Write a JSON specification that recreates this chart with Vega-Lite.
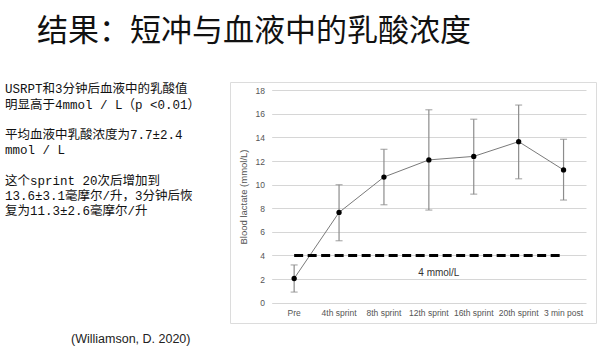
{
  "$schema": "https://vega.github.io/schema/vega-lite/v6.json",
  "background": "white",
  "padding": {"left": 5, "top": 15, "right": 0, "bottom": 0},
  "title": {
    "text": "结果：短冲与血液中的乳酸浓度",
    "anchor": "start",
    "fontSize": 31,
    "font": "Noto Sans CJK SC",
    "fontWeight": "normal",
    "color": "#111111",
    "dx": 32,
    "offset": 34
  },
  "spacing": 0,
  "hconcat": [
    {
      "width": 224,
      "height": 140,
      "data": {
        "values": [
          {"line": 0, "text": "USRPT和3分钟后血液中的乳酸值"},
          {"line": 1, "text": "明显高于4mmol / L（p <0.01）"},
          {"line": 3, "text": "平均血液中乳酸浓度为7.7±2.4"},
          {"line": 4, "text": "mmol / L"},
          {"line": 6, "text": "这个sprint 20次后增加到"},
          {"line": 7, "text": "13.6±3.1毫摩尔/升，3分钟后恢"},
          {"line": 8, "text": "复为11.3±2.6毫摩尔/升"}
        ]
      },
      "title": {
        "text": "(Williamson, D. 2020)",
        "orient": "bottom",
        "anchor": "start",
        "dx": 66,
        "offset": 111,
        "baseline": "top",
        "fontSize": 12.5,
        "font": "Liberation Sans",
        "fontWeight": "normal",
        "color": "#222222"
      },
      "mark": {
        "type": "text",
        "align": "left",
        "baseline": "middle",
        "fontSize": 12.5,
        "font": "Liberation Mono, Noto Sans CJK SC",
        "color": "#111111"
      },
      "encoding": {
        "x": {"datum": 0, "type": "quantitative", "scale": {"domain": [0, 1], "range": [0, 224]}, "axis": null},
        "y": {"field": "line", "type": "quantitative", "scale": {"domain": [0, 8], "range": [7.3, 128.9]}, "axis": null},
        "text": {"field": "text"}
      }
    },
    {
      "width": 366,
      "height": 241,
      "view": {"stroke": "#dcdcdc", "strokeWidth": 1},
      "data": {
        "values": [
          {"time": "Pre", "mean": 2.05, "lo": 0.9, "hi": 3.2},
          {"time": "4th sprint", "mean": 7.65, "lo": 5.25, "hi": 10.0},
          {"time": "8th sprint", "mean": 10.65, "lo": 8.3, "hi": 13.0},
          {"time": "12th sprint", "mean": 12.1, "lo": 7.85, "hi": 16.35},
          {"time": "16th sprint", "mean": 12.4, "lo": 9.2, "hi": 15.55},
          {"time": "20th sprint", "mean": 13.65, "lo": 10.5, "hi": 16.75},
          {"time": "3 min post", "mean": 11.25, "lo": 8.7, "hi": 13.85}
        ]
      },
      "encoding": {
        "x": {
          "field": "time",
          "type": "nominal",
          "sort": null,
          "scale": {
            "type": "band",
            "domain": ["Pre", "4th sprint", "8th sprint", "12th sprint", "16th sprint", "20th sprint", "3 min post"],
            "range": [41.7, 356],
            "paddingInner": 0,
            "paddingOuter": 0
          },
          "axis": {
            "orient": "bottom",
            "offset": -20.3,
            "ticks": false,
            "domain": false,
            "grid": false,
            "labelAngle": 0,
            "labelPadding": 5.5,
            "labelFontSize": 8.5,
            "labelColor": "#555555",
            "labelFont": "Liberation Sans",
            "title": null
          }
        }
      },
      "layer": [
        {
          "mark": {"type": "rule", "color": "#8c8c8c", "strokeWidth": 1.2},
          "encoding": {
            "y": {
              "field": "lo",
              "type": "quantitative",
              "title": "Blood lactate (mmol/L)",
              "scale": {"domain": [0, 18], "range": [220.7, 8.3], "nice": false, "zero": true},
              "axis": {
                "values": [0, 2, 4, 6, 8, 10, 12, 14, 16, 18],
                "tickCount": 10,
                "labelOverlap": false,
                "offset": -41.7,
                "ticks": false,
                "tickSize": 0,
                "domain": false,
                "grid": true,
                "gridColor": "#d6d6d6",
                "gridWidth": 1,
                "labelPadding": 7.2,
                "labelFontSize": 8.5,
                "labelColor": "#555555",
                "labelFont": "Liberation Sans",
                "titleFontSize": 9.5,
                "titleFont": "Liberation Sans",
                "titleFontWeight": "normal",
                "titleColor": "#555555",
                "titlePadding": 7
              }
            },
            "y2": {"field": "hi"}
          }
        },
        {
          "mark": {"type": "tick", "orient": "horizontal", "size": 7, "thickness": 1.2, "color": "#8c8c8c"},
          "encoding": {"y": {"field": "lo", "type": "quantitative", "title": "Blood lactate (mmol/L)"}}
        },
        {
          "mark": {"type": "tick", "orient": "horizontal", "size": 7, "thickness": 1.2, "color": "#8c8c8c"},
          "encoding": {"y": {"field": "hi", "type": "quantitative", "title": "Blood lactate (mmol/L)"}}
        },
        {
          "mark": {"type": "line", "color": "#7a7a7a", "strokeWidth": 1},
          "encoding": {"y": {"field": "mean", "type": "quantitative", "title": "Blood lactate (mmol/L)"}}
        },
        {
          "mark": {"type": "line", "color": "#000000", "strokeWidth": 3, "strokeDash": [9, 4.5], "strokeCap": "butt"},
          "encoding": {"y": {"datum": 4, "type": "quantitative", "title": "Blood lactate (mmol/L)"}}
        },
        {
          "mark": {"type": "point", "filled": true, "color": "#000000", "opacity": 1, "size": 28},
          "encoding": {"y": {"field": "mean", "type": "quantitative", "title": "Blood lactate (mmol/L)"}}
        },
        {
          "data": {"values": [{"label": "4 mmol/L"}]},
          "mark": {"type": "text", "fontSize": 10, "font": "Liberation Sans", "color": "#333333", "dx": 10, "baseline": "middle", "align": "center"},
          "encoding": {
            "x": {"datum": "12th sprint", "type": "nominal"},
            "y": {"datum": 2.55, "type": "quantitative", "title": "Blood lactate (mmol/L)"},
            "text": {"field": "label"}
          }
        }
      ]
    }
  ],
  "config": {
    "view": {"stroke": null},
    "axisY": {"labelOverlap": false, "tickCount": 10}
  }
}
